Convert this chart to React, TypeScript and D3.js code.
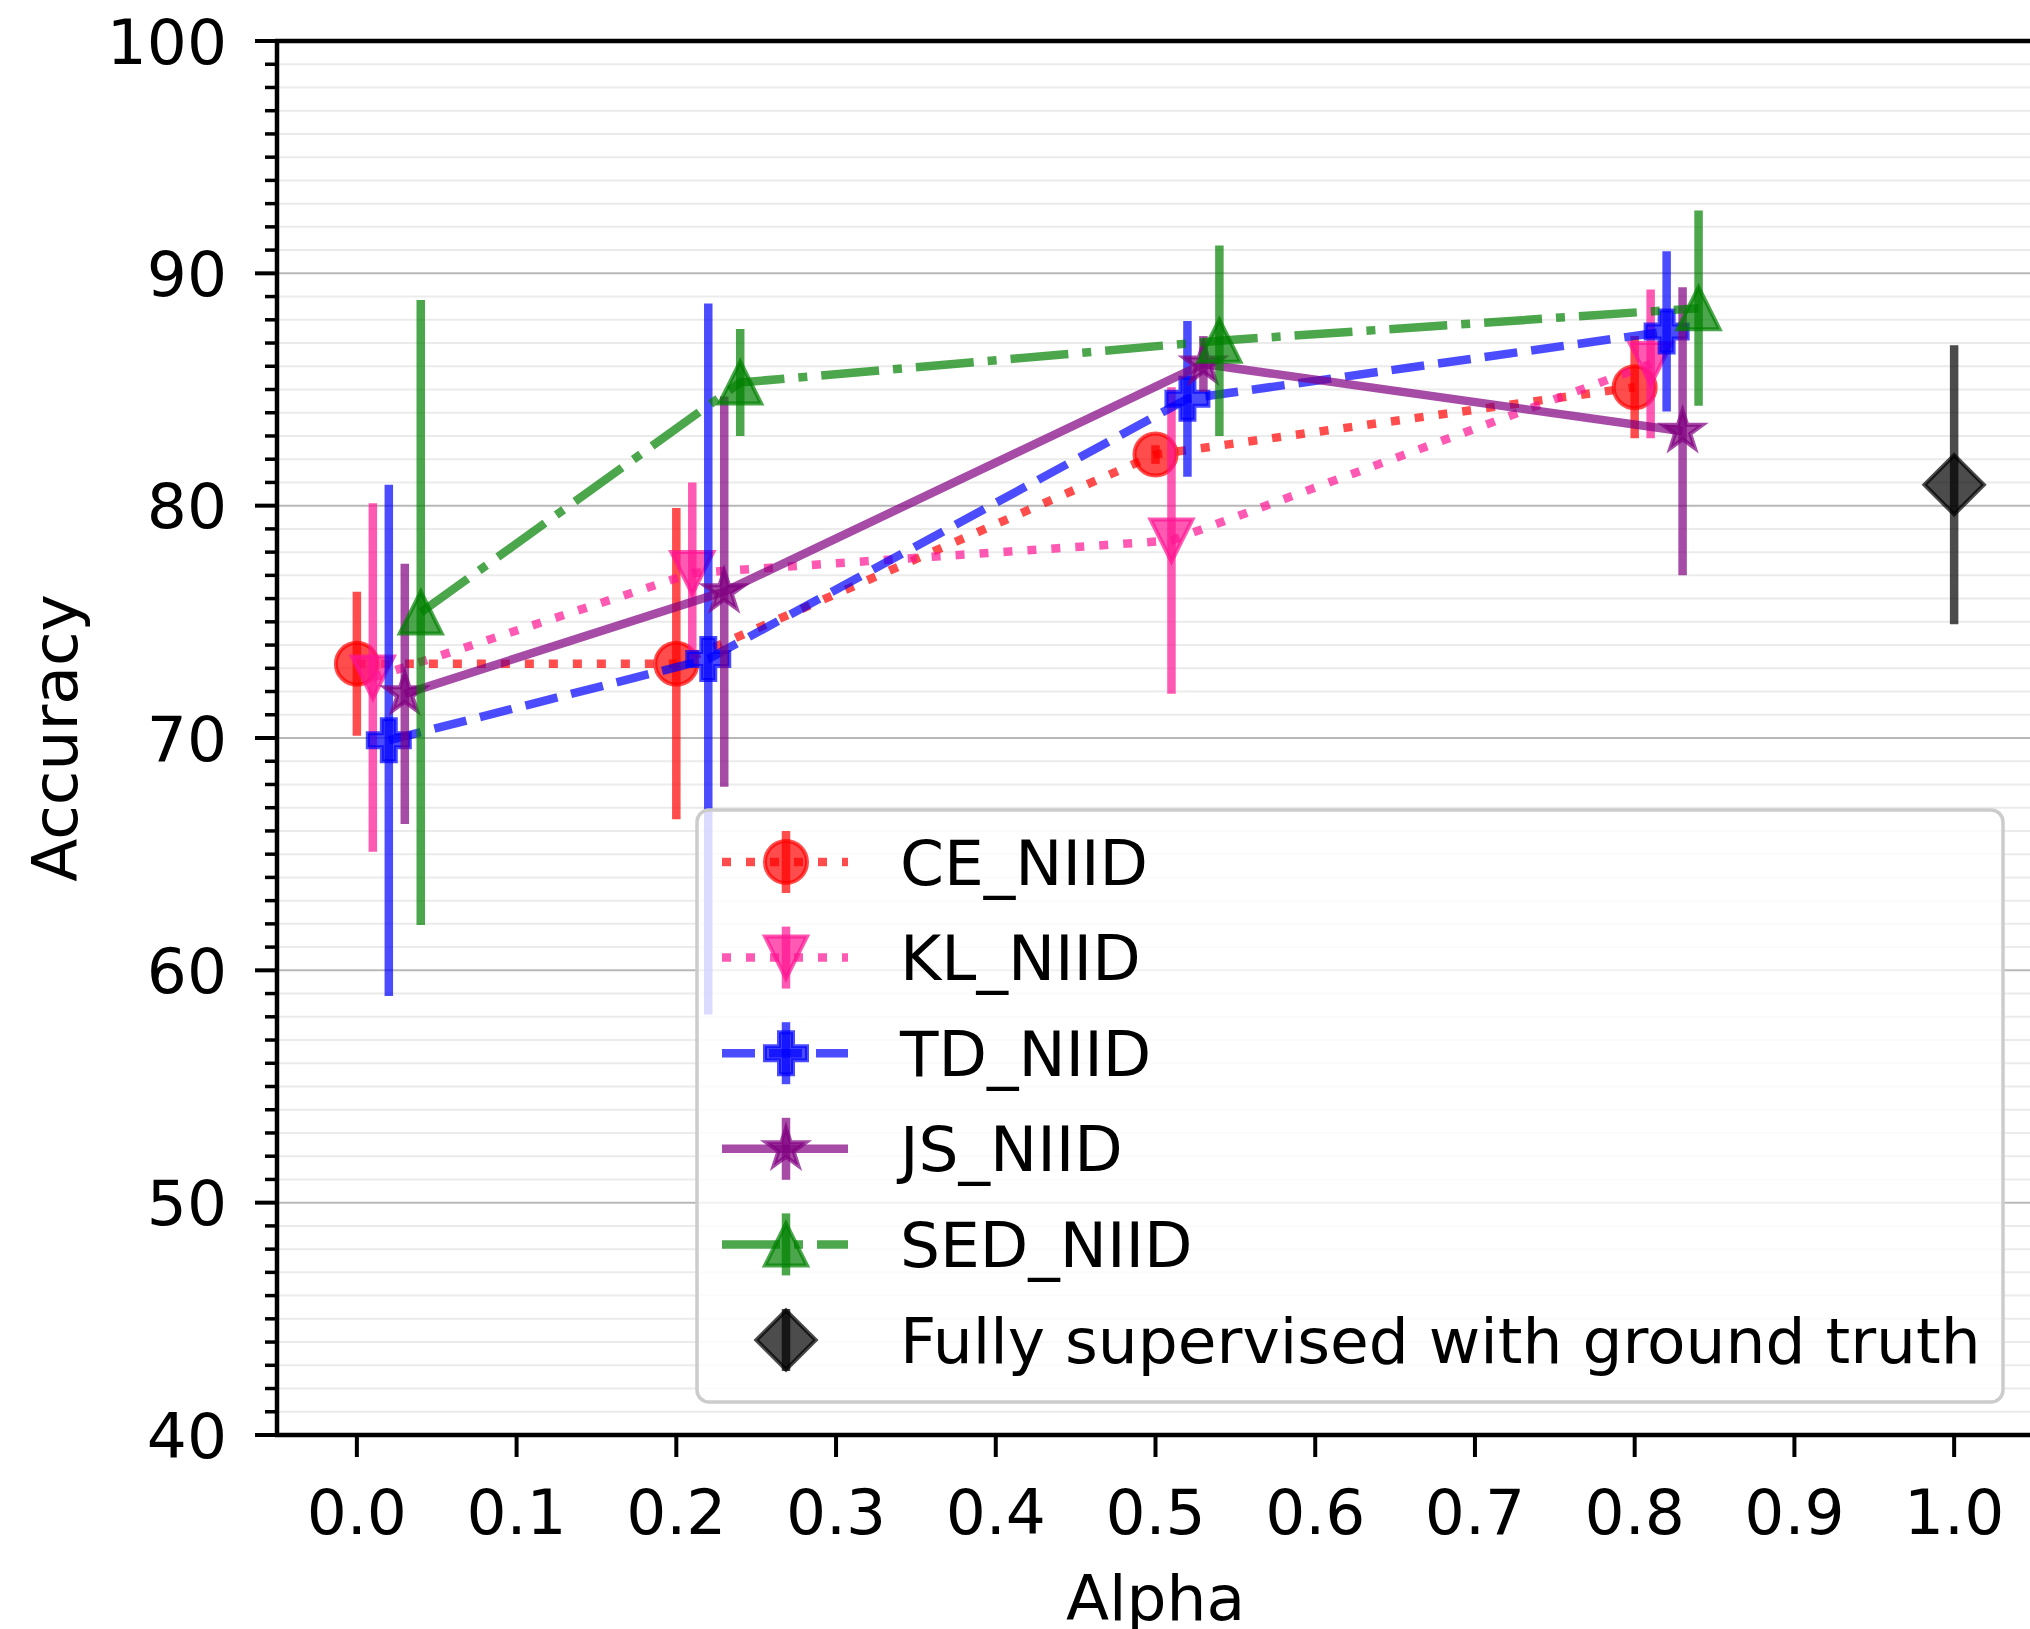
import React from "react";
import * as d3 from "d3";

// alpha values tested, and a small horizontal offset for each method so the bars don't overlap
const alphas = [0.0, 0.2, 0.5, 0.8];
const methods = ["CE_NIID", "KL_NIID", "TD_NIID", "JS_NIID", "SED_NIID"];
const offsets = [0, 0.01, 0.02, 0.03, 0.04];

const ceMean = [73.2, 73.2, 82.2, 85.1];
const ceErr = [3.1, 6.7, 0.4, 2.2];
const klMean = [72.6, 77.1, 78.5, 86.1];
const klErr = [7.5, 3.9, 6.6, 3.2];
const tdMean = [69.9, 73.4, 84.6, 87.5];
const tdErr = [11.0, 15.3, 3.35, 3.45];
const jsMean = [71.9, 76.3, 86.1, 83.2];
const jsErr = [5.6, 8.4, 1.2, 6.2];
const sedMean = [75.4, 85.3, 87.1, 88.5];
const sedErr = [13.45, 2.3, 4.1, 4.2];

const supervisedLabel = "Fully supervised with ground truth";
const supervisedAlpha = [1.0];
const supervisedMean = [80.9];
const supervisedErr = [6.0];

const xTicks = [0.0, 0.1, 0.2, 0.3, 0.4, 0.5, 0.6, 0.7, 0.8, 0.9, 1.0];
const yTicks = [40, 50, 60, 70, 80, 90, 100];

const means = [ceMean, klMean, tdMean, jsMean, sedMean];
const errs = [ceErr, klErr, tdErr, jsErr, sedErr];

// styling per method
const colors = ["#ff0000", "#ff1493", "#0000ff", "#800080", "#008000"];
const dashes = ["9 15", "9 15", "33 14", null, "58 14 9 14"];
const markers = ["o", "v", "P", "*", "^"];

const W = 2030;
const H = 1629;
const LEFT = 277;
const RIGHT = 2034;
const TOP = 41;
const BOTTOM = 1435;
const FONT = "DejaVu Sans, sans-serif";
const FS = 63;
const LW = 8.5;
const MS = 42;
const OPACITY = 0.7;

const x = d3.scaleLinear().domain([-0.05, 1.05]).range([LEFT, RIGHT]);
const y = d3.scaleLinear().domain([40, 100]).range([BOTTOM, TOP]);

const markerPath = (type: string, s: number) => {
  const h = s / 2;
  switch (type) {
    case "o":
      return `M${h},0A${h},${h} 0 1,1 ${-h},0A${h},${h} 0 1,1 ${h},0Z`;
    case "v":
      return `M0,${h}L${-h},${-h}L${h},${-h}Z`;
    case "^":
      return `M0,${-h}L${-h},${h}L${h},${h}Z`;
    case "P": {
      const a = s / 6;
      const pts = [
        [-a, -3 * a], [a, -3 * a], [a, -a], [3 * a, -a], [3 * a, a], [a, a],
        [a, 3 * a], [-a, 3 * a], [-a, a], [-3 * a, a], [-3 * a, -a], [-a, -a],
      ];
      return "M" + pts.map((p) => p.join(",")).join("L") + "Z";
    }
    case "*": {
      const pts: number[][] = [];
      for (let i = 0; i < 10; i++) {
        const r = i % 2 === 0 ? h : h * 0.381966;
        const ang = (i * Math.PI) / 5 - Math.PI / 2;
        pts.push([r * Math.cos(ang), r * Math.sin(ang)]);
      }
      return "M" + pts.map((p) => p.join(",")).join("L") + "Z";
    }
    case "D": {
      const d = s * 0.7071;
      return `M0,${-d}L${d},0L0,${d}L${-d},0Z`;
    }
    default:
      return "";
  }
};

const Marker = ({ type, cx, cy, color }: any) => (
  <path
    d={markerPath(type, MS)}
    transform={`translate(${cx},${cy})`}
    fill={color}
    fillOpacity={OPACITY}
    stroke={color}
    strokeOpacity={OPACITY}
    strokeWidth={4}
    strokeLinejoin="miter"
  />
);

const ErrBar = ({ cx, lo, hi, color }: any) => (
  <line
    x1={cx}
    x2={cx}
    y1={lo}
    y2={hi}
    stroke={color}
    strokeOpacity={OPACITY}
    strokeWidth={LW}
  />
);

export default function App() {
  const line = d3
    .line<[number, number]>()
    .x((d) => x(d[0]))
    .y((d) => y(d[1]));

  const minorTicks = d3.range(40, 101, 1).filter((v) => v % 10 !== 0);

  const legendRows = [
    ...methods.map((m, i) => ({
      label: m,
      color: colors[i],
      dash: dashes[i],
      marker: markers[i],
      withLine: true,
    })),
    { label: supervisedLabel, color: "#000000", dash: null, marker: "D", withLine: false },
  ];

  const LX = 697;
  const LY = 810;
  const LW2 = 1306;
  const LH = 592;

  return (
    <svg
      width={W}
      height={H}
      style={{ position: "absolute", left: 0, top: 0, background: "#fff" }}
      fontFamily={FONT}
    >
      <defs>
        <clipPath id="plot-area">
          <rect x={LEFT} y={TOP} width={RIGHT - LEFT} height={BOTTOM - TOP} />
        </clipPath>
      </defs>
      <rect x={0} y={0} width={W} height={H} fill="#fff" />

      {/* grid */}
      <g>
        {minorTicks.map((v) => (
          <line key={`mg-${v}`} x1={LEFT} x2={RIGHT} y1={y(v)} y2={y(v)} stroke="#ebebeb" strokeWidth={2} />
        ))}
        {yTicks.map((v) => (
          <line key={`g-${v}`} x1={LEFT} x2={RIGHT} y1={y(v)} y2={y(v)} stroke="#b8b8b8" strokeWidth={2} />
        ))}
      </g>

      {/* series */}
      <g clipPath="url(#plot-area)">
        {methods.map((m, i) => {
          const pts: [number, number][] = alphas.map((a, j) => [a + offsets[i], means[i][j]]);
          return (
            <g key={m}>
              <path
                d={line(pts) || ""}
                fill="none"
                stroke={colors[i]}
                strokeOpacity={OPACITY}
                strokeWidth={LW}
                strokeDasharray={dashes[i] || undefined}
                strokeLinejoin="round"
              />
              {pts.map((p, j) => (
                <Marker key={`m-${j}`} type={markers[i]} cx={x(p[0])} cy={y(p[1])} color={colors[i]} />
              ))}
              {pts.map((p, j) => (
                <ErrBar
                  key={`e-${j}`}
                  cx={x(p[0])}
                  lo={y(p[1] - errs[i][j])}
                  hi={y(p[1] + errs[i][j])}
                  color={colors[i]}
                />
              ))}
            </g>
          );
        })}
        {supervisedAlpha.map((a, j) => (
          <g key={`sup-${j}`}>
            <Marker type="D" cx={x(a)} cy={y(supervisedMean[j])} color="#000000" />
            <ErrBar
              cx={x(a)}
              lo={y(supervisedMean[j] - supervisedErr[j])}
              hi={y(supervisedMean[j] + supervisedErr[j])}
              color="#000000"
            />
          </g>
        ))}
      </g>

      {/* spines */}
      <g stroke="#000" strokeWidth={4.5} fill="none">
        <line x1={LEFT} x2={LEFT} y1={TOP - 2} y2={BOTTOM + 2} />
        <line x1={LEFT - 2} x2={RIGHT} y1={BOTTOM} y2={BOTTOM} />
        <line x1={LEFT - 2} x2={RIGHT} y1={TOP} y2={TOP} />
        <line x1={RIGHT} x2={RIGHT} y1={TOP} y2={BOTTOM} />
      </g>

      {/* y axis */}
      <g>
        {minorTicks.map((v) => (
          <line key={`mt-${v}`} x1={LEFT - 12} x2={LEFT} y1={y(v)} y2={y(v)} stroke="#000" strokeWidth={3.5} />
        ))}
        {yTicks.map((v) => (
          <g key={`yt-${v}`}>
            <line x1={LEFT - 22} x2={LEFT} y1={y(v)} y2={y(v)} stroke="#000" strokeWidth={4} />
            <text x={LEFT - 50} y={y(v)} dy="0.36em" textAnchor="end" fontSize={FS} fill="#000">
              {v}
            </text>
          </g>
        ))}
        <text
          transform={`translate(54,${(TOP + BOTTOM) / 2}) rotate(-90)`}
          textAnchor="middle"
          dy="0.36em"
          fontSize={FS}
          fill="#000"
        >
          Accuracy
        </text>
      </g>

      {/* x axis */}
      <g>
        {xTicks.map((v) => (
          <g key={`xt-${v}`}>
            <line x1={x(v)} x2={x(v)} y1={BOTTOM} y2={BOTTOM + 22} stroke="#000" strokeWidth={4} />
            <text x={x(v)} y={BOTTOM + 76} dy="0.36em" textAnchor="middle" fontSize={FS} fill="#000">
              {d3.format(".1f")(v)}
            </text>
          </g>
        ))}
        <text x={(LEFT + RIGHT) / 2} y={1597} dy="0.36em" textAnchor="middle" fontSize={FS} fill="#000">
          Alpha
        </text>
      </g>

      {/* legend */}
      <g>
        <rect
          x={LX}
          y={LY}
          width={LW2}
          height={LH}
          rx={12}
          fill="#fff"
          fillOpacity={0.8}
          stroke="#cccccc"
          strokeWidth={3.5}
        />
        {legendRows.map((r, i) => {
          const cy = 862 + i * 95.6;
          return (
            <g key={r.label}>
              {r.withLine && (
                <line
                  x1={722}
                  x2={848}
                  y1={cy}
                  y2={cy}
                  stroke={r.color}
                  strokeOpacity={OPACITY}
                  strokeWidth={LW}
                  strokeDasharray={r.dash || undefined}
                />
              )}
              <Marker type={r.marker} cx={786} cy={cy} color={r.color} />
              <ErrBar cx={786} lo={cy + 31} hi={cy - 31} color={r.color} />
              <text x={900} y={cy} dy="0.36em" fontSize={FS} fill="#000">
                {r.label}
              </text>
            </g>
          );
        })}
      </g>
    </svg>
  );
}
